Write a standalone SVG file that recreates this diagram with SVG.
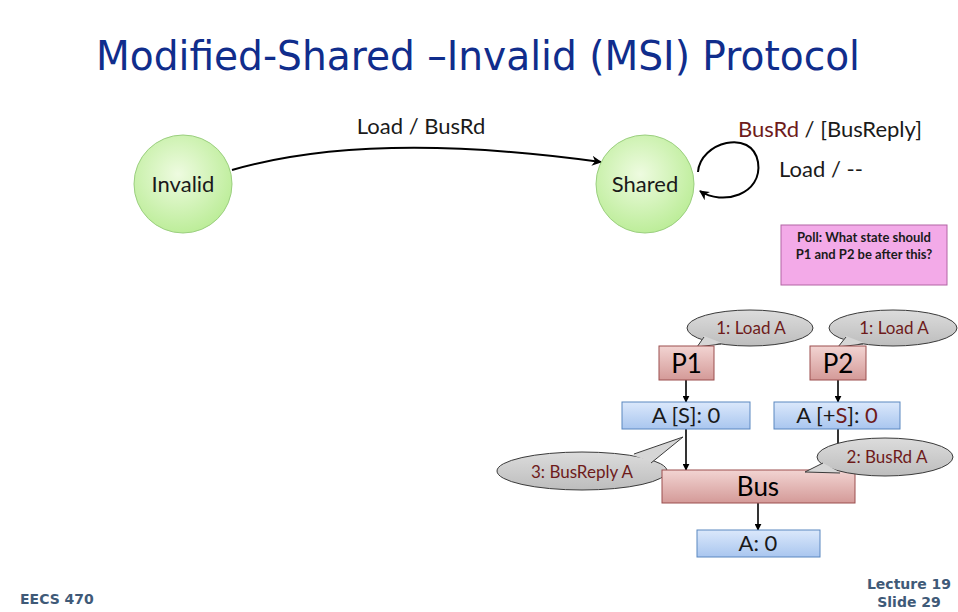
<svg xmlns="http://www.w3.org/2000/svg" width="958" height="612" viewBox="0 0 958 612">
<defs>
<radialGradient id="gc" cx="0.45" cy="0.4" r="0.65">
<stop offset="0" stop-color="#eefbe0"/><stop offset="1" stop-color="#b9ec94"/>
</radialGradient>
<linearGradient id="gp" x1="0" y1="0" x2="0" y2="1">
<stop offset="0" stop-color="#f2d4d2"/><stop offset="1" stop-color="#d49a98"/>
</linearGradient>
<linearGradient id="gb" x1="0" y1="0" x2="0" y2="1">
<stop offset="0" stop-color="#dbe8fb"/><stop offset="1" stop-color="#a9c6ef"/>
</linearGradient>
<linearGradient id="gg" x1="0" y1="0" x2="0" y2="1">
<stop offset="0" stop-color="#dcdcdc"/><stop offset="1" stop-color="#bdbdbd"/>
</linearGradient>
<marker id="ah" viewBox="0 0 10 10" refX="9" refY="5" markerWidth="7" markerHeight="7" orient="auto" markerUnits="userSpaceOnUse">
<path d="M0,0 L10,5 L0,10 z" fill="#000"/>
</marker>
<marker id="ah2" viewBox="0 0 10 10" refX="9" refY="5" markerWidth="10" markerHeight="10" orient="auto" markerUnits="userSpaceOnUse">
<path d="M0,0 L10,5 L0,10 L3,5 z" fill="#000"/>
</marker>
</defs>
<style>
text{font-family:Lato,"Open Sans","Liberation Sans",sans-serif}
.st{fill:url(#gc);stroke:#9bcf7f;stroke-width:1}
.pb{fill:url(#gp);stroke:#9b4f4f;stroke-width:1}
.cb{fill:url(#gb);stroke:#5a87c0;stroke-width:1}
.co{fill:url(#gg);stroke:#3a3a3a;stroke-width:1}
.tail{fill:#d6d6d6;stroke:none}
.tl{fill:none;stroke:#3a3a3a;stroke-width:1}
.lbl{font-size:22px;fill:#1a1a1a}
.red{fill:#6e1b1b}
.cap{font-size:17px;fill:#6e1b1b}
.big{font-size:26px;fill:#000}
.val{font-size:22px;fill:#1a1a1a}
.line{fill:none;stroke:#000;stroke-width:2}
.sline{fill:none;stroke:#000;stroke-width:1.6}
.foot{font-size:14px;font-weight:bold;fill:#3f5a78;font-family:"DejaVu Sans","Liberation Sans",sans-serif}
</style>
<rect width="958" height="612" fill="#fff"/>
<text x="478" y="70" text-anchor="middle" font-size="40" fill="#102d8c" style="font-family:'DejaVu Sans','Liberation Sans',sans-serif" textLength="764" lengthAdjust="spacingAndGlyphs">Modified-Shared –Invalid (MSI) Protocol</text>

<g id="connectors">
<path class="line" d="M232,170 Q370,130 601,162" marker-end="url(#ah2)"/>
<path class="line" d="M698,172 C700,142 752,128 758,162 C763,195 722,206 700,191" marker-end="url(#ah2)"/>
<line class="sline" x1="686" y1="380" x2="686" y2="402" marker-end="url(#ah)"/>
<line class="sline" x1="838" y1="380" x2="838" y2="402" marker-end="url(#ah)"/>
<line class="sline" x1="686" y1="429" x2="686" y2="470" marker-end="url(#ah)"/>
<line class="sline" x1="838" y1="429" x2="838" y2="470"/>
<line class="sline" x1="758" y1="503" x2="758" y2="530" marker-end="url(#ah)"/>
</g>

<g id="invalid">
<circle class="st" cx="183" cy="184" r="49"/>
<text class="lbl" x="183" y="192" text-anchor="middle" font-size="24">Invalid</text>
</g>
<g id="shared">
<circle class="st" cx="645" cy="184" r="49"/>
<text class="lbl" x="645" y="192" text-anchor="middle" font-size="24">Shared</text>
</g>
<g id="label-load-busrd">
<text class="lbl" x="421" y="134" text-anchor="middle">Load / BusRd</text>
</g>
<g id="label-busrd-reply">
<text class="lbl" x="830" y="137" text-anchor="middle" font-size="23"><tspan class="red">BusRd</tspan> / [BusReply]</text>
</g>
<g id="label-load-dash">
<text class="lbl" x="821" y="177" text-anchor="middle">Load / --</text>
</g>

<g id="poll">
<rect x="781" y="225" width="166" height="60" fill="#f3aae8" stroke="#b265a4" stroke-width="1"/>
<text x="864" y="242" text-anchor="middle" font-size="13" font-weight="bold" fill="#1a1a1a">Poll: What state should</text>
<text x="864" y="259" text-anchor="middle" font-size="13" font-weight="bold" fill="#1a1a1a">P1 and P2 be after this?</text>
</g>

<g id="callout-p1">
<ellipse class="co" cx="750" cy="328" rx="63" ry="18"/>
<polygon class="tail" points="697,347 704,336 722,343"/>
<polyline class="tl" points="704,337 697,347 721,344"/>
<text class="cap" x="751" y="334" text-anchor="middle">1: Load A</text>
</g>
<g id="callout-p2">
<ellipse class="co" cx="893" cy="328" rx="64" ry="18"/>
<polygon class="tail" points="838,347 846,336 864,343"/>
<polyline class="tl" points="846,337 838,347 863,344"/>
<text class="cap" x="894" y="334" text-anchor="middle">1: Load A</text>
</g>

<g id="p1">
<rect class="pb" x="659" y="346" width="55" height="34"/>
<text class="big" x="686.5" y="373" text-anchor="middle">P1</text>
</g>
<g id="p2">
<rect class="pb" x="810" y="346" width="56" height="34"/>
<text class="big" x="838" y="373" text-anchor="middle">P2</text>
</g>
<g id="cache-p1">
<rect class="cb" x="622" y="402" width="128" height="27"/>
<text class="val" x="686" y="423" text-anchor="middle" font-size="23">A [S]: 0</text>
</g>
<g id="cache-p2">
<rect class="cb" x="774" y="402" width="126" height="27"/>
<text class="val" x="837" y="423" text-anchor="middle" font-size="23">A [+<tspan class="red">S</tspan>]: <tspan class="red">0</tspan></text>
</g>

<g id="callout-busreply">
<ellipse class="co" cx="582" cy="471" rx="85" ry="19"/>
<polygon class="tail" points="683,437 632,455 652,462"/>
<polyline class="tl" points="634,454 683,437 651,463"/>
<text class="cap" x="582" y="478" text-anchor="middle" font-size="18.5">3: BusReply A</text>
</g>

<g id="bus">
<rect class="pb" x="662" y="470" width="193" height="33"/>
<text class="big" x="758" y="496" text-anchor="middle">Bus</text>
</g>

<g id="callout-busrd">
<ellipse class="co" cx="885" cy="457" rx="68" ry="19"/>
<polygon class="tail" points="805,472 823,463 841,473"/>
<polyline class="tl" points="823,463 805,472 840,473"/>
<text class="cap" x="887" y="463" text-anchor="middle">2: BusRd A</text>
</g>

<g id="memory">
<rect class="cb" x="697" y="530" width="123" height="27"/>
<text class="val" x="758" y="551" text-anchor="middle">A: 0</text>
</g>

<g id="footer">
<text class="foot" x="20" y="604">EECS 470</text>
<text class="foot" x="909" y="589" text-anchor="middle">Lecture 19</text>
<text class="foot" x="909" y="607" text-anchor="middle">Slide 29</text>
</g>
</svg>
